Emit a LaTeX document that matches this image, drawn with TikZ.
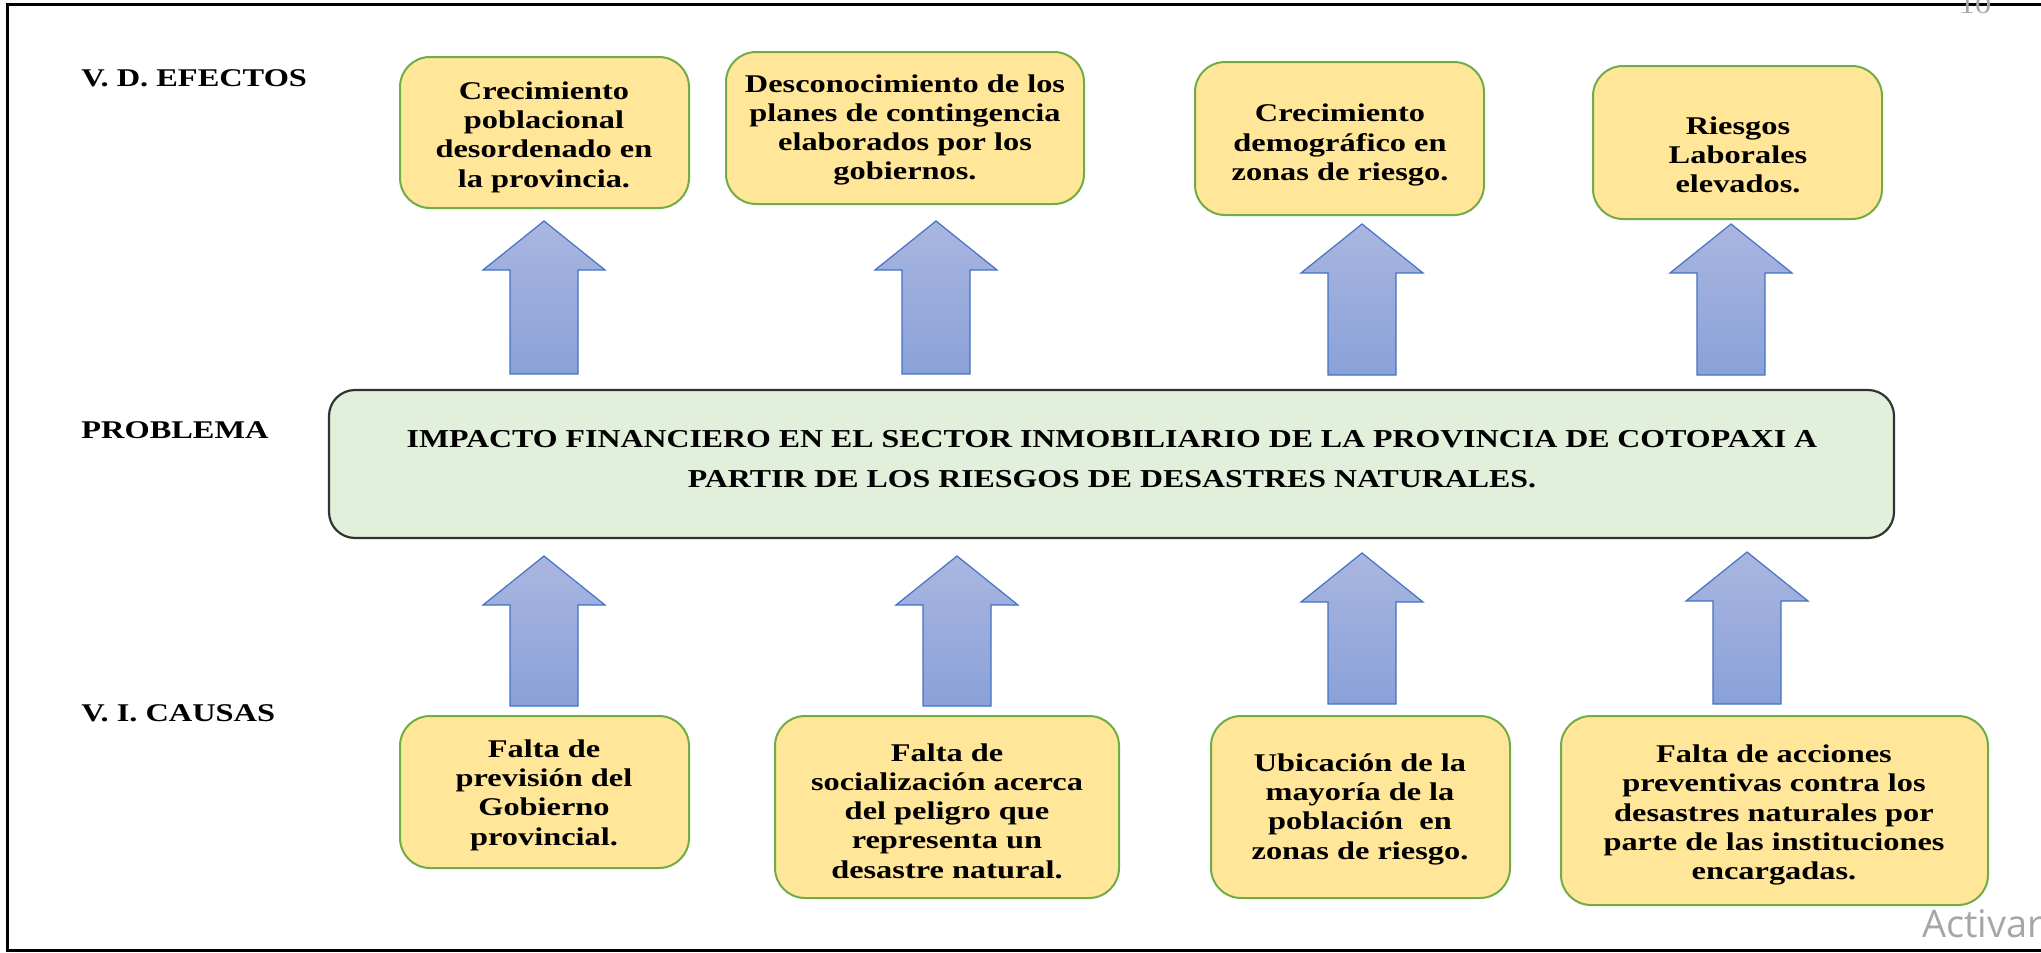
\documentclass[tikz,border=0pt]{standalone}
\usepackage{fontspec}
\setmainfont{Liberation Serif}[FakeStretch=1.27]
\newfontfamily\probfont{Liberation Serif}[FakeStretch=1.235]
\newfontfamily\wmfont{Open Sans}
\definecolor{boxfill}{HTML}{FFE699}
\definecolor{boxline}{HTML}{70AD47}
\definecolor{probfill}{HTML}{E2EFDA}
\definecolor{probline}{HTML}{333333}
\definecolor{arrtop}{HTML}{A9B6E0}
\definecolor{arrbot}{HTML}{8AA1D8}
\definecolor{arrline}{HTML}{4472C4}
\definecolor{wmgray}{HTML}{A6A6A6}
\tikzset{
  ybox/.style={draw=boxline, line width=1pt, fill=boxfill, rounded corners=15pt, inner sep=0pt},
  pbox/.style={draw=probline, line width=1.1pt, fill=probfill, rounded corners=13pt, inner sep=0pt},
  btext/.style={align=center, inner sep=0pt, font=\fontsize{12.75}{14.65}\selectfont\bfseries},
  ptext/.style={align=center, inner sep=0pt, font=\probfont\fontsize{12.9}{20}\selectfont\bfseries},
  lbl/.style={anchor=west, inner sep=0pt, font=\fontsize{12.75}{14.65}\selectfont\bfseries},
  bigarrow/.style={draw=arrline, line width=0.6pt, top color=arrtop, bottom color=arrbot}
}
\newcommand\uparr[4]{%
  \path[bigarrow] (#1,#2) -- (#1+61,#3) -- (#1+34,#3) -- (#1+34,#4) -- (#1-34,#4) -- (#1-34,#3) -- (#1-61,#3) -- cycle;}
\begin{document}
\begin{tikzpicture}[x=0.5pt,y=-0.5pt]
\useasboundingbox (0,0) rectangle (2041,953);
% frame
\draw[line width=1.5pt] (2041,4) -- (7,4) -- (7,950) -- (2041,950);
% page number and watermark
\node[anchor=base, inner sep=0pt, text=wmgray, font=\fontsize{12.75}{14}\selectfont] (pg) at (1975,13) {10};
\node[anchor=base west, inner sep=0pt, text=wmgray, font=\wmfont\fontsize{19}{21}\selectfont] (wm) at (1922,937) {Activar};
% row labels
\node[lbl] (lef) at (81,78) {V. D. EFECTOS};
\node[lbl] (lpr) at (81,430) {PROBLEMA};
\node[lbl] (lca) at (81,713) {V. I. CAUSAS};
% effect boxes
\node[ybox, minimum width=144.5pt, minimum height=75.5pt] (e1) at (544.5,132.5) {};
\node[btext] (te1) at (544,137) {Crecimiento\\poblacional\\desordenado en\\la provincia.};
\node[ybox, minimum width=179pt, minimum height=76pt] (e2) at (905,128) {};
\node[btext] (te2) at (905,130) {Desconocimiento de los\\planes de contingencia\\elaborados por los\\gobiernos.};
\node[ybox, minimum width=144.5pt, minimum height=76.5pt] (e3) at (1339.5,138.5) {};
\node[btext] (te3) at (1340,145) {Crecimiento\\demográfico en\\zonas de riesgo.};
\node[ybox, minimum width=144.5pt, minimum height=76.5pt] (e4) at (1737.5,142.5) {};
\node[btext] (te4) at (1738,155) {Riesgos\\Laborales\\elevados.};
% problem
\node[pbox, minimum width=782.5pt, minimum height=74pt] (p) at (1111.5,464) {};
\node[ptext] (tp) at (1112,459) {IMPACTO FINANCIERO EN EL SECTOR INMOBILIARIO DE LA PROVINCIA DE COTOPAXI A\\PARTIR DE LOS RIESGOS DE DESASTRES NATURALES.};
% cause boxes
\node[ybox, minimum width=144.5pt, minimum height=76pt] (c1) at (544.5,792) {};
\node[btext] (tc1) at (544,795) {Falta de\\previsión del\\Gobierno\\provincial.};
\node[ybox, minimum width=172pt, minimum height=91pt] (c2) at (947,807) {};
\node[btext] (tc2) at (947,811) {Falta de\\socialización acerca\\del peligro que\\representa un\\desastre natural.};
\node[ybox, minimum width=149.5pt, minimum height=91pt] (c3) at (1360.5,807) {};
\node[btext] (tc3) at (1360,809) {Ubicación de la\\mayoría de la\\población\ \ en\\zonas de riesgo.};
\node[ybox, minimum width=213.5pt, minimum height=94.5pt] (c4) at (1774.5,810.5) {};
\node[btext] (tc4) at (1774,815) {Falta de acciones\\preventivas contra los\\desastres naturales por\\parte de las instituciones\\encargadas.};
% arrows: problem -> effects
\uparr{544}{221}{270}{374}
\uparr{936}{221}{270}{374}
\uparr{1362}{224}{273}{375}
\uparr{1731}{224}{273}{375}
% arrows: causes -> problem
\uparr{544}{556}{605}{706}
\uparr{957}{556}{605}{706}
\uparr{1362}{553}{602}{704}
\uparr{1747}{552}{601}{704}
\end{tikzpicture}
\end{document}
